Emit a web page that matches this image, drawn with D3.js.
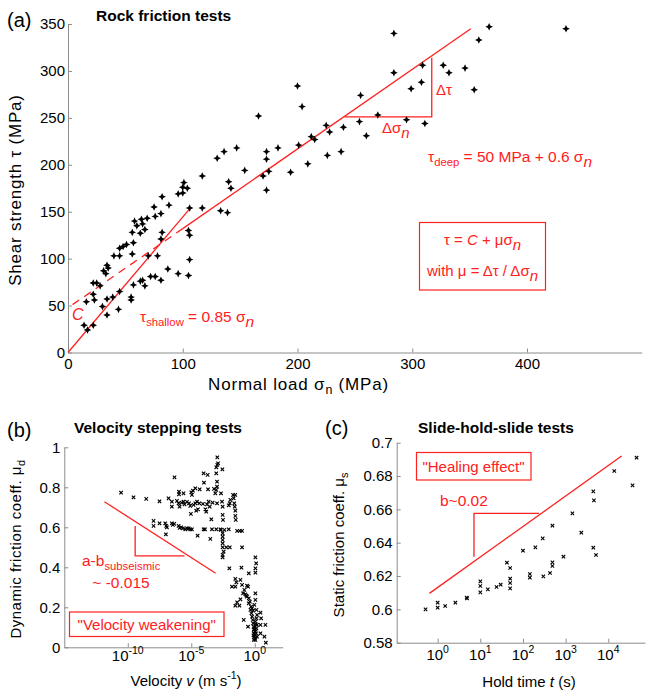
<!DOCTYPE html>
<html><head><meta charset="utf-8">
<script src="https://cdn.jsdelivr.net/npm/d3@7"></script>
<style>body{margin:0;background:#fff} svg{display:block} text{font-family:"Liberation Sans",Arial,Helvetica,sans-serif}</style>
</head><body><svg id="c" width="646" height="696"></svg>
<script>
// ---------- DATA ----------
// (a) Rock friction tests: [normal load sigma_n (MPa), shear strength tau (MPa)]
const rockPoints = [
[101,181],[100,176],[104,175],[96,169],[100,170],[82,166],[88,157],[106,154],[117,154],[75,155],
[81,148],[76,145],[69,143],[64,142],[58,140],[65,137],[60,135],[67,131],[56,128],[63,127],
[82,128],[105,130],[106,125],[51,115],[45,111],[48,113],[56,105],[57,117],[45,103],[40,103],
[34,93],[35,90],[31,87],[33,84],[70,103],[78,103],[81,121],[106,99],[87,89],[96,84],
[105,82],[76,81],[72,81],[81,77],[65,77],[63,76],[67,71],[57,72],[22,74],[25,74],
[28,71],[16,54],[22,62],[23,56],[45,65],[39,59],[34,57],[55,59],[55,56],[30,49],
[44,46],[34,40],[14,29],[17,24],[22,29],
[117,188],[130,207],[136,214],[147,218],[154,194],[166,252],[140,182],[142,175],[133,151],[139,149],
[173,214],[173,206],[175,193],[170,188],[173,173],[183,218],[194,192],[200,284],[204,262],[201,221],
[209,201],[212,230],[215,227],[225,242],[228,235],[226,210],[238,214],[240,240],[284,340],[358,333],
[284,298],[309,306],[327,306],[332,298],[346,303],[308,288],[299,281],[354,280],[255,274],[270,253],
[295,248],[311,244],[254,246],[260,231],[367,347],[434,345]
];
const aXTicks = [0,100,200,300,400];
const aYTicks = [0,50,100,150,200,250,300,350];
const shallowLine = [[0,0],[106,153]];
const deepDashed = [[4,51],[100,132]];
const deepSolid = [[100,132],[351,345]];
const deepTriangle = [[241,251],[317,251],[317,314]];

// (b) Velocity stepping tests: [log10 velocity (m/s), dynamic friction coeff]
const velStepPoints = [
[-10.53,0.773],[-9.55,0.75],[-8.55,0.742],[-7.5,0.73],[-6.79,0.745],[-6.32,0.85],
[-6.53,0.728],[-6.53,0.703],[-6.13,0.732],[-6.0,0.72],[-5.97,0.778],[-5.97,0.765],[-5.92,0.703],[-5.76,0.723],[-5.61,0.77],[-5.61,0.728],[-5.53,0.715],[-5.34,0.727],[-5.18,0.72],[-5.08,0.707],[-5.0,0.775],[-4.95,0.762],[-4.87,0.783],[-5.03,0.667],[-4.82,0.712],[-4.68,0.72],[-4.55,0.728],[-4.61,0.683],[-4.47,0.69],[-4.68,0.795],[-4.34,0.79],[-4.37,0.72],[-4.08,0.717],[-4.03,0.87],[-4.0,0.823],[-3.89,0.69],[-3.82,0.678],[-3.76,0.715],[-3.71,0.862],[-3.68,0.79],[-3.63,0.728],[-3.55,0.703],[-3.42,0.64],[-3.32,0.723],[-3.21,0.792],[-3.11,0.77],[-3.03,0.787],[-2.97,0.803],[-2.97,0.828],[-3.03,0.87],[-2.95,0.912],[-2.89,0.92],[-3.03,0.9],[-2.95,0.95],[-2.55,0.89],[-2.66,0.77],[-2.58,0.728],[-2.53,0.703],[-2.53,0.662],[-2.5,0.637],[-2.97,0.72],[-2.05,0.71],[-1.97,0.72],[-1.92,0.737],[-1.71,0.762],[-1.53,0.762],[-1.66,0.745],[-1.61,0.72],[-1.58,0.703],[-1.53,0.683],[-1.53,0.657],[-1.5,0.637],
[-7.97,0.632],[-7.97,0.607],[-7.5,0.62],[-7.05,0.62],[-6.97,0.607],[-6.92,0.6],[-7.0,0.565],[-6.53,0.62],[-6.45,0.612],[-6.34,0.617],[-6.0,0.607],[-5.92,0.597],[-5.79,0.6],[-5.66,0.595],[-5.47,0.59],[-5.34,0.595],[-5.21,0.595],[-5.08,0.59],[-4.95,0.59],[-4.5,0.558],[-4.03,0.59],[-3.92,0.59],[-3.5,0.542],[-3.37,0.59],[-3.03,0.59],[-2.71,0.59],[-2.66,0.587],[-2.39,0.587],[-2.05,0.59],[-1.39,0.582],[-1.18,0.582],[-1.0,0.582],[-1.0,0.5],
[-2.53,0.57],[-2.53,0.553],[-2.53,0.537],[-2.53,0.52],[-2.53,0.5],[-2.45,0.478],[-2.53,0.462],[-2.53,0.45],[-2.24,0.5],[-1.97,0.5],
[-2.0,0.395],[-1.05,0.398],[-0.47,0.37],[0.05,0.45],[0.11,0.42],[0.05,0.395],[0.05,0.373],[-1.79,0.303],[-1.53,0.303],[-1.45,0.325],[-1.53,0.342],[-1.13,0.337],[-1.0,0.312],[-0.61,0.308],[-0.53,0.303],[-0.82,0.287],[-0.74,0.265],[-0.66,0.258],[-0.92,0.27],[-0.61,0.253],[-0.47,0.245],[-1.13,0.24],[-1.39,0.225],[-1.21,0.208],[-1.53,0.208],[-0.87,0.137],[-0.47,0.22],[-0.39,0.228],[-0.29,0.203],[-0.21,0.195],[0.05,0.27],[0.05,0.237],[-0.34,0.187],[-0.26,0.17],[-0.21,0.153],[-0.16,0.137],[-0.13,0.12],[-0.08,0.103],[-0.08,0.087],[-0.08,0.07],[-0.03,0.053],[0.05,0.037],[-0.08,0.037],[0.13,0.187],[0.18,0.162],[0.13,0.145],[0.05,0.128],[0.18,0.112],[0.13,0.095],[0.05,0.078],[0.45,0.173],[0.5,0.145],[0.45,0.112],[0.45,0.07],[0.84,0.112],[0.76,0.053],[0.87,0.023],[0.18,0.053],[-0.13,0.183],[-0.03,0.212],[-0.53,0.103],
[-0.05,0.09],[0.0,0.08],[0.02,0.06],[-0.02,0.1],[0.08,0.115],[0.1,0.07],[-0.1,0.06],[0.0,0.045]
];
const bXTickExps = [-10,-5,0];
const bYTicks = [0,0.2,0.4,0.6,0.8,1];
const bSlopeLine = [[-11.84,0.728],[-3.08,0.37]];
const bTriangle = [[-9.42,0.607],[-9.42,0.457],[-5.53,0.457]];

// (c) Slide-hold-slide tests
const holdTime = [0.52,1.0,1.0,1.5,2.6,4.8,4.9,10,10,10,15,24,30,42,50,50,50,50,100,145,145,195,290,300,430,490,490,490,890,1440,2330,4450,4600,4450,5140,13800,37000,46000];
const staticMu = [0.600,0.604,0.601,0.602,0.604,0.607,0.6066,0.6168,0.614,0.6102,0.612,0.6134,0.6148,0.628,0.6248,0.6184,0.6158,0.6126,0.6352,0.6212,0.619,0.6372,0.6426,0.6198,0.6218,0.6502,0.6282,0.626,0.6316,0.6576,0.646,0.6708,0.6654,0.637,0.6326,0.683,0.6744,0.691];
const cXTickExps = [0,1,2,3,4];
const cYTicks = [0.58,0.6,0.62,0.64,0.66,0.68,0.7];
const cLine = [[0.64,0.6096],[20500,0.692]];
const cTriangle = [[7.1,0.6316],[7.1,0.6576],[237,0.6576]];

// ---------- DRAW ----------
const svg = d3.select('#c');
const AX = '#8c8c8c', RED = '#ff2020';
const starPath = 'M0,-3.8L1.2,-1.2L3.8,0L1.2,1.2L0,3.8L-1.2,1.2L-3.8,0L-1.2,-1.2Z';
const xPath = 'M-1.7,-1.7L1.7,1.7M-1.7,1.7L1.7,-1.7';

function styleAxis(g){
  g.attr('font-family',null).attr('font-size',null);
  g.select('.domain').attr('stroke',AX);
  g.selectAll('.tick line').attr('stroke',AX);
  g.selectAll('.tick text').attr('fill','#000').style('font-size','15px');
}
// rich text: parts = [[text, kind]] kinds: '', 'sub', 'subn', 'sup', 'i'
function rich(parent, x, y, parts, opt){
  opt = opt||{};
  const fs = opt.fs||15;
  const t = parent.append('text').attr('x',x).attr('y',y)
    .attr('text-anchor',opt.anchor||'start').attr('fill',opt.fill||'#000')
    .style('font-size',fs+'px');
  if(opt.rotate) t.attr('transform',`rotate(${opt.rotate},${x},${y})`);
  if(opt.bold) t.style('font-weight','bold');
  if(opt.ls) t.style('letter-spacing',opt.ls+'px');
  let cur = 0;
  parts.forEach(([s,k])=>{
    let off=0, size=fs, it=false;
    if(k==='sub'){off=4; size=fs*0.73;}
    if(k==='subn'){off=5; size=fs; it=true;}
    if(k==='sup'){off=-7; size=fs*0.7;}
    if(k==='i'){it=true;}
    const sp = t.append('tspan').attr('dy',off-cur).style('font-size',size+'px').text(s);
    if(it) sp.style('font-style','italic');
    cur=off;
  });
  return t;
}

// ===== Panel (a) =====
const ax = d3.scaleLinear().domain([0,500]).range([68,641.75]);
const ay = d3.scaleLinear().domain([0,350]).range([352.5,24]);
const gA = svg.append('g');
gA.append('g').attr('transform','translate(0,352.5)')
  .call(d3.axisBottom(ax).tickValues(aXTicks).tickSizeInner(-4).tickSizeOuter(0).tickPadding(6)).call(styleAxis);
gA.append('g').attr('transform','translate(68,0)')
  .call(d3.axisLeft(ay).tickValues(aYTicks).tickSizeInner(-4).tickSizeOuter(0).tickPadding(3)).call(styleAxis);
const lineA = d3.line().x(d=>ax(d[0])).y(d=>ay(d[1]));
gA.append('path').attr('d',lineA(shallowLine)).attr('stroke',RED).attr('stroke-width',1.3).attr('fill','none');
gA.append('path').attr('d',lineA(deepDashed)).attr('stroke',RED).attr('stroke-width',1.3).attr('stroke-dasharray','8,6').attr('fill','none');
gA.append('path').attr('d',lineA(deepSolid)).attr('stroke',RED).attr('stroke-width',1.3).attr('fill','none');
gA.append('path').attr('d',lineA(deepTriangle)).attr('stroke',RED).attr('stroke-width',1.3).attr('fill','none');
gA.selectAll('path.pt').data(rockPoints).join('path').attr('class','pt')
  .attr('d',starPath).attr('fill','#000')
  .attr('transform',d=>`translate(${ax(d[0])},${ay(d[1])})`);
rich(gA,7,27,[['(a)','']],{fs:20});
rich(gA,96,21,[['Rock friction tests','']],{fs:15.5,bold:true});
rich(gA,298.5,390,[['Normal load σ',''],['n','sub'],[' (MPa)','']],{anchor:'middle',fs:17,ls:0.8});
rich(gA,21,190,[['Shear  strength τ (MPa)','']],{anchor:'middle',rotate:-90,fs:17,ls:0.8});
rich(gA,72,320,[['C','i']],{fill:RED,fs:16});
rich(gA,140,322,[['τ',''],['shallow','sub'],[' = 0.85 σ',''],['n','subn']],{fill:RED,fs:15.5});
rich(gA,436,95,[['Δτ','']],{fill:RED});
rich(gA,382,133,[['Δσ',''],['n','subn']],{fill:RED});
rich(gA,428,162,[['τ',''],['deep','sub'],[' = 50 MPa + 0.6 σ',''],['n','subn']],{fill:RED,fs:15.5});
gA.append('rect').attr('x',419.5).attr('y',222.5).attr('width',126).attr('height',67.5).attr('fill','none').attr('stroke',RED).attr('stroke-width',1.2);
rich(gA,482.5,245,[['τ = ',''],['C','i'],[' + μσ',''],['n','subn']],{fill:RED,anchor:'middle'});
rich(gA,482.5,276,[['with μ = Δτ / Δσ',''],['n','subn']],{fill:RED,anchor:'middle'});

// ===== Panel (b) =====
const bx = d3.scaleLog().domain([1e-15,Math.pow(10,2.2)]).range([64.3,282.7]);
const by = d3.scaleLinear().domain([0,1]).range([647.3,447.3]);
const gB = svg.append('g');
gB.append('g').attr('transform','translate(0,647.3)')
  .call(d3.axisBottom(bx).tickValues(bXTickExps.map(e=>Math.pow(10,e))).tickSizeInner(-4).tickSizeOuter(0).tickFormat(()=>'')).call(styleAxis);
gB.append('g').attr('transform','translate(64.3,0)')
  .call(d3.axisLeft(by).tickValues(bYTicks).tickSizeInner(-4).tickSizeOuter(0).tickPadding(4).tickFormat(d3.format('~g'))).call(styleAxis);
bXTickExps.forEach(e=>rich(gB,bx(Math.pow(10,e)),661,[['10',''],[String(e),'sup']],{anchor:'middle'}));
const lineB = d3.line().x(d=>bx(Math.pow(10,d[0]))).y(d=>by(d[1]));
gB.selectAll('path.pt').data(velStepPoints).join('path').attr('class','pt')
  .attr('d',xPath).attr('stroke','#000').attr('stroke-width',1.1).attr('fill','none')
  .attr('transform',d=>`translate(${bx(Math.pow(10,d[0]))},${by(d[1])})`);
gB.append('path').attr('d',lineB(bSlopeLine)).attr('stroke',RED).attr('stroke-width',1.3).attr('fill','none');
gB.append('path').attr('d',lineB(bTriangle)).attr('stroke',RED).attr('stroke-width',1.3).attr('fill','none');
rich(gB,7,437,[['(b)','']],{fs:20});
rich(gB,74,433,[['Velocity stepping tests','']],{fs:15.5,bold:true});
rich(gB,21,549,[['Dynamic friction coeff. μ',''],['d','sub']],{anchor:'middle',rotate:-90,ls:0.5});
rich(gB,186,686,[['Velocity ',''],['v','i'],[' (m s',''],['-1','sup'],[')','']],{anchor:'middle'});
rich(gB,82,566,[['a-b',''],['subseismic','sub']],{fill:RED,fs:15.5});
rich(gB,121,588,[['~ -0.015','']],{fill:RED,anchor:'middle',fs:15.5});
gB.append('rect').attr('x',69.5).attr('y',612).attr('width',154.5).attr('height',24.5).attr('fill','none').attr('stroke',RED).attr('stroke-width',1.2);
rich(gB,146.7,630,[['"Velocity weakening"','']],{fill:RED,anchor:'middle'});

// ===== Panel (c) =====
const cx = d3.scaleLog().domain([Math.pow(10,-0.96),Math.pow(10,4.86)]).range([396.7,645]);
const cy = d3.scaleLinear().domain([0.58,0.7]).range([642.7,442.7]);
const gC = svg.append('g');
gC.append('g').attr('transform','translate(0,642.7)')
  .call(d3.axisBottom(cx).tickValues(cXTickExps.map(e=>Math.pow(10,e))).tickSizeInner(-4).tickSizeOuter(0).tickFormat(()=>'')).call(styleAxis);
gC.append('g').attr('transform','translate(396.7,0)')
  .call(d3.axisLeft(cy).tickValues(cYTicks).tickSizeInner(-4).tickSizeOuter(0).tickPadding(4).tickFormat(d3.format('~g'))).call(styleAxis);
cXTickExps.forEach(e=>rich(gC,cx(Math.pow(10,e)),659.5,[['10',''],[String(e),'sup']],{anchor:'middle'}));
const lineC = d3.line().x(d=>cx(d[0])).y(d=>cy(d[1]));
gC.selectAll('path.pt').data(holdTime).join('path').attr('class','pt')
  .attr('d',xPath).attr('stroke','#000').attr('stroke-width',1.1).attr('fill','none')
  .attr('transform',(d,i)=>`translate(${cx(d)},${cy(staticMu[i])})`);
gC.append('path').attr('d',lineC(cLine)).attr('stroke',RED).attr('stroke-width',1.3).attr('fill','none');
gC.append('path').attr('d',lineC(cTriangle)).attr('stroke',RED).attr('stroke-width',1.3).attr('fill','none');
rich(gC,325,435,[['(c)','']],{fs:20});
rich(gC,418,433,[['Slide-hold-slide tests','']],{fs:15.5,bold:true});
rich(gC,344,545,[['Static friction coeff.  μ',''],['s','sub']],{anchor:'middle',rotate:-90});
rich(gC,529,687,[['Hold time ',''],['t','i'],[' (s)','']],{anchor:'middle'});
gC.append('rect').attr('x',416.5).attr('y',452.5).attr('width',114.5).attr('height',27.5).attr('fill','none').attr('stroke',RED).attr('stroke-width',1.2);
rich(gC,473.5,472,[['"Healing effect"','']],{fill:RED,anchor:'middle'});
rich(gC,440,506,[['b~0.02','']],{fill:RED,fs:15.5});
</script></body></html>
